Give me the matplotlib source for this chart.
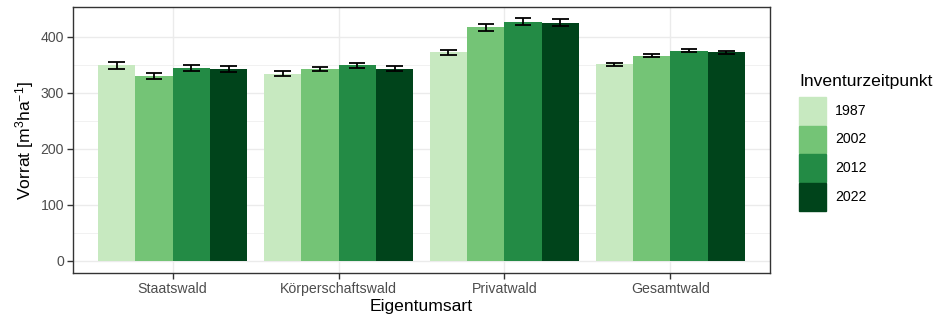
import matplotlib
matplotlib.use("Agg")
import matplotlib.pyplot as plt
from matplotlib.patches import Rectangle
import numpy as np

plt.rcParams['font.family'] = ['Liberation Sans', 'DejaVu Sans']
plt.rcParams['mathtext.fontset'] = 'custom'
plt.rcParams['mathtext.rm'] = 'Liberation Sans'
plt.rcParams['mathtext.it'] = 'Liberation Sans'
plt.rcParams['mathtext.default'] = 'regular'

categories = ["Staatswald", "Körperschaftswald", "Privatwald", "Gesamtwald"]
years = ["1987", "2002", "2012", "2022"]
colors = ["#C7E9C0", "#74C476", "#238B45", "#00441B"]

v1987 = [349, 334, 372, 351]
v2002 = [330, 342, 417, 366]
v2012 = [344, 349, 427, 375]
v2022 = [342, 343, 425, 372]
values = [v1987, v2002, v2012, v2022]

e1987 = [6, 4, 5, 3]
e2002 = [5, 4, 6, 3]
e2012 = [5, 4, 6, 3]
e2022 = [5, 4, 6, 3]
errors = [e1987, e2002, e2012, e2022]

fig = plt.figure(figsize=(9.38, 3.17), dpi=100)
ax = fig.add_axes([73/938, 1-273/317, (770-73)/938, (273-7.3)/317])

x = np.arange(1, len(categories)+1)
w = 0.9/len(years)
for i, (yr, col) in enumerate(zip(years, colors)):
    pos = x - 0.45 + w*(i+0.5)
    ax.bar(pos, values[i], width=w, color=col, zorder=2)
    v = np.array(values[i]); e = np.array(errors[i])
    ax.vlines(pos, v-e, v+e, color='black', lw=1.3, zorder=3)
    ax.hlines(v-e, pos-0.05, pos+0.05, color='black', lw=1.3, zorder=3)
    ax.hlines(v+e, pos-0.05, pos+0.05, color='black', lw=1.3, zorder=3)

ax.set_xlim(0.4, 4.6)
ax.set_ylim(-21.6, 452.5)
ax.set_xticks(x)
ax.set_xticklabels(categories)
ax.set_yticks([0, 100, 200, 300, 400])
ax.set_yticks([50, 150, 250, 350], minor=True)
ax.grid(which='major', color='#EBEBEB', lw=1.0, zorder=0)
ax.grid(which='minor', axis='y', color='#EBEBEB', lw=0.5, zorder=0)
ax.set_axisbelow(True)
for s in ax.spines.values():
    s.set_color('#333333'); s.set_linewidth(1.0)
ax.tick_params(axis='both', which='major', length=4, width=1.0, color='#333333',
               labelcolor='#4D4D4D', labelsize=10.2, pad=2.5)
ax.tick_params(axis='y', which='minor', length=0)
ax.set_xlabel("Eigentumsart", fontsize=12.6, color='black', labelpad=2)
ax.set_ylabel(r"Vorrat [m$^3$ha$^{-1}$]", fontsize=12.6, color='black', labelpad=3)

# legend
fig.text(799/938, 1-86/317, "Inventurzeitpunkt", fontsize=12.6, va='baseline', ha='left')
kx, kw, kh = 799, 27, 27.5
ky0 = 97
for i, (yr, col) in enumerate(zip(years, colors)):
    top = ky0 + i*28.7
    fig.add_artist(Rectangle((kx/938, 1-(top+kh)/317), kw/938, kh/317,
                             transform=fig.transFigure, color=col))
    fig.text(835/938, 1-(top+kh/2)/317, yr, fontsize=10.2, va='center', ha='left')

fig.savefig("out.png", dpi=100)
